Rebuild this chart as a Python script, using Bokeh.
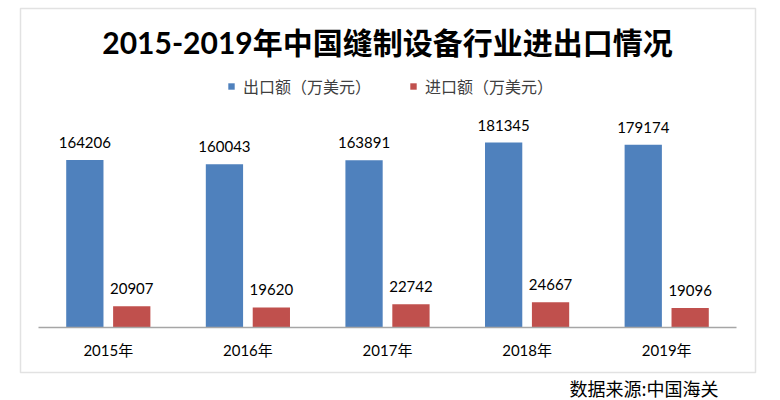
from bokeh.plotting import figure
from bokeh.models import (ColumnDataSource, Range1d, Label, BoxAnnotation,
                          Legend, LegendItem)
from bokeh.transform import dodge
from bokeh.core.properties import value
from bokeh.embed import file_html
from bokeh.resources import INLINE

# ---- data ----
years = ["2015年", "2016年", "2017年", "2018年", "2019年"]
exports = [164206, 160043, 163891, 181345, 179174]   # 出口额（万美元）
imports = [20907, 19620, 22742, 24667, 19096]        # 进口额（万美元）
series_names = ["出口额（万美元）", "进口额（万美元）"]
title_text = "2015-2019年中国缝制设备行业进出口情况"
source_text = "数据来源:中国海关"

# ---- style / layout (pixels) ----
BLUE = "#4F81BD"
RED = "#C0504D"
NUM_FONT = "Lato, 'Noto Sans CJK SC'"
CJK_FONT = "'Noto Sans CJK SC'"
W, H = 780, 400
AX_L, AX_R = 38, 736          # axis line extent
AX_Y = 327                    # axis line position
PX_PER_UNIT_Y = 204 / 200000  # pixels per value unit

n = len(years)
xs = list(range(n))
cat_px = (AX_R - AX_L) / n
x_start = -0.5 - AX_L / cat_px
x_end = (n - 0.5) + (W - AX_R) / cat_px
y_end = AX_Y / PX_PER_UNIT_Y
y_start = -(H - AX_Y) / PX_PER_UNIT_Y

src = ColumnDataSource(dict(
    x=xs,
    years=years,
    exports=exports,
    imports=imports,
    exp_txt=[str(v) for v in exports],
    imp_txt=[str(v) for v in imports],
    zero=[0] * n,
))

p = figure(width=W, height=H, output_backend="svg", toolbar_location=None,
           x_range=Range1d(x_start, x_end), y_range=Range1d(y_start, y_end),
           x_axis_location=None, y_axis_location=None,
           min_border=0)
p.min_border_left = p.min_border_right = p.min_border_top = p.min_border_bottom = 0
p.outline_line_color = None
p.grid.visible = False
p.background_fill_color = "white"
p.border_fill_color = "white"

# chart border box
p.add_layout(BoxAnnotation(left=20, right=755, top=8, bottom=372,
                           left_units="canvas", right_units="canvas",
                           top_units="canvas", bottom_units="canvas",
                           fill_alpha=0, line_color="#A0A0A0", line_width=1.5,
                           level="underlay"))

bw = 0.267
off = 0.168
r_exp = p.vbar(x=dodge("x", -off), top="exports", width=bw,
               source=src, fill_color=BLUE, line_color=None)
r_imp = p.vbar(x=dodge("x", off), top="imports", width=bw,
               source=src, fill_color=RED, line_color=None)

# category axis line
p.segment(x0=xs[0] - 0.5, x1=xs[-1] + 0.5, y0=0, y1=0,
          line_color="#A6A6A6", line_width=1.5)

# category labels
p.text(x="x", y="zero", text="years", source=src, text_align="center",
       text_baseline="middle", y_offset=22.5, text_font=value(NUM_FONT),
       text_font_size="15px", text_color="#000000")

# value labels
lbl_kw = dict(source=src, text_align="center", text_baseline="middle",
              y_offset=-17.5, text_font=value(NUM_FONT), text_font_size="15px",
              text_color="#000000")
p.text(x=dodge("x", -off), y="exports", text="exp_txt", **lbl_kw)
p.text(x=dodge("x", off), y="imports", text="imp_txt", **lbl_kw)

# title
p.add_layout(Label(x=387, y=41.5, x_units="canvas", y_units="canvas", text=title_text,
                   text_align="center", text_baseline="middle",
                   text_font=NUM_FONT, text_font_style="bold", text_font_size="30px",
                   text_color="#000000"))

# source note
p.add_layout(Label(x=643.5, y=387.5, x_units="canvas", y_units="canvas", text=source_text,
                   text_align="center", text_baseline="middle",
                   text_font=CJK_FONT, text_font_size="18px", text_color="#000000"))

legend = Legend(items=[LegendItem(label=series_names[0], renderers=[r_exp]),
                       LegendItem(label=series_names[1], renderers=[r_imp])],
                location=(227, H - 98), orientation="horizontal",
                glyph_width=8, glyph_height=8, label_standoff=8, spacing=38,
                label_height=20, padding=0, margin=0, border_line_color=None,
                background_fill_alpha=0,
                label_text_font=CJK_FONT, label_text_font_size="16px",
                label_text_color="#404040")
p.add_layout(legend, "center")

open("out.html", "w").write(file_html(p, INLINE))
